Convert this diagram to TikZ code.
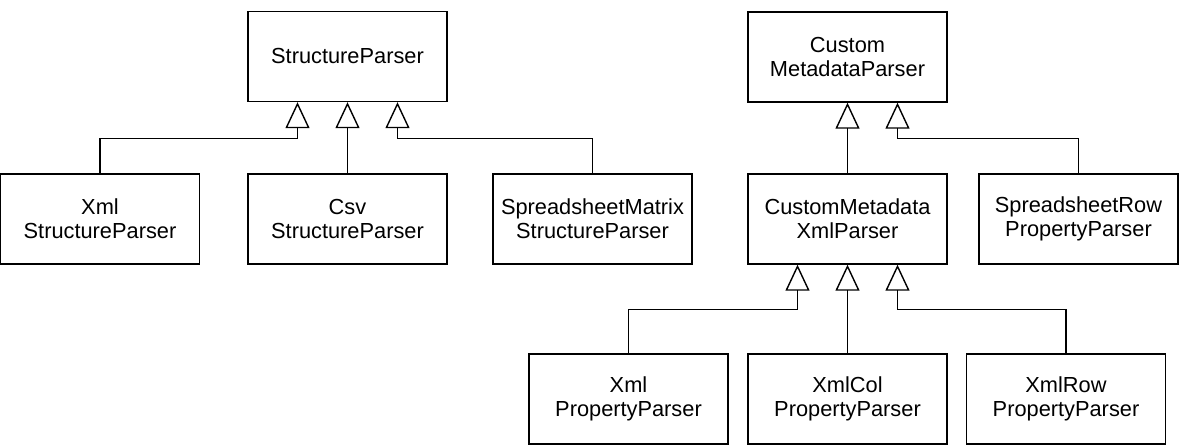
\documentclass[tikz,border=0pt]{standalone}
\usepackage{fontspec}
\setmainfont{Liberation Sans}
\usepackage{tikz}
\usetikzlibrary{arrows.meta,calc}

\begin{document}
\begin{tikzpicture}[
    cls/.style={draw, line width=0.8pt, minimum width=3.98cm, minimum height=1.8cm,
        inner sep=0pt, align=center, font=\fontsize{12.4}{13.7}\selectfont},
    inh/.style={line width=0.8pt, -{Triangle[open, length=0.52cm, width=0.48cm, line width=0.8pt]}}
]
    \useasboundingbox (0, 0) rectangle (23.7, -8.96);

    % 左边: StructureParser 一族
    \node[cls] (sp) at (6.95, -1.13) {StructureParser};
    \node[cls] (xmlsp) at (2.0, -4.38) {Xml\\StructureParser};
    \node[cls] (csvsp) at (6.95, -4.38) {Csv\\StructureParser};
    \node[cls] (ssmsp) at (11.85, -4.38) {SpreadsheetMatrix\\StructureParser};

    \draw[inh] (xmlsp.north) |- ([xshift=-1cm, yshift=-0.73cm]sp.south) -- ([xshift=-1cm]sp.south);
    \draw[inh] (csvsp.north) -- (sp.south);
    \draw[inh] (ssmsp.north) |- ([xshift=1cm, yshift=-0.73cm]sp.south) -- ([xshift=1cm]sp.south);

    % 右边: CustomMetadataParser 一族
    \node[cls] (cmp) at (16.95, -1.14) {Custom\\MetadataParser};
    \node[cls] (cmxml) at (16.95, -4.38) {CustomMetadata\\XmlParser};
    \node[cls] (ssrow) at (21.57, -4.38) {SpreadsheetRow\\PropertyParser};

    \draw[inh] (cmxml.north) -- (cmp.south);
    \draw[inh] (ssrow.north) |- ([xshift=1cm, yshift=-0.72cm]cmp.south) -- ([xshift=1cm]cmp.south);

    % 最下一层: PropertyParser
    \node[cls] (xmlpp) at (12.57, -7.98) {Xml\\PropertyParser};
    \node[cls] (xmlcolpp) at (16.95, -7.98) {XmlCol\\PropertyParser};
    \node[cls] (xmlrowpp) at (21.32, -7.98) {XmlRow\\PropertyParser};

    \draw[inh] (xmlpp.north) |- ([xshift=-1cm, yshift=-0.9cm]cmxml.south) -- ([xshift=-1cm]cmxml.south);
    \draw[inh] (xmlcolpp.north) -- (cmxml.south);
    \draw[inh] (xmlrowpp.north) |- ([xshift=1cm, yshift=-0.9cm]cmxml.south) -- ([xshift=1cm]cmxml.south);
\end{tikzpicture}
\end{document}
